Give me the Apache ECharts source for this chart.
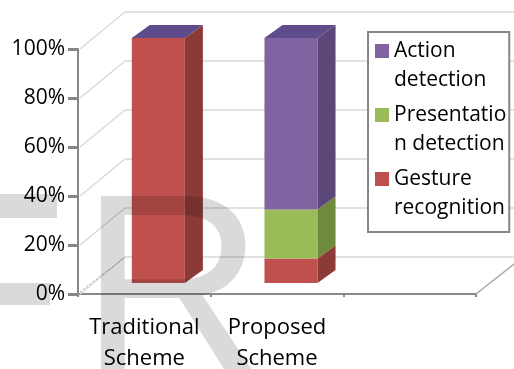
<!DOCTYPE html>
<html>
<head>
<meta charset="utf-8">
<title>Scheme comparison</title>
<script src="https://cdn.jsdelivr.net/npm/echarts@6/dist/echarts.min.js"></script>
<style>html,body{margin:0;padding:0;background:#fff;}</style>
</head>
<body>
<div id="main" style="width:514px;height:369px;"></div>
<script>
    // chart values
    var categories = ['Traditional\nScheme', 'Proposed\nScheme', ''];
    var gestureRecognition = [100, 10];
    var presentationDetection = [0, 20];
    var actionDetection = [0, 70];
    var yTicks = [0, 20, 40, 60, 80, 100];

    var legendLabels = {
        'Action detection': 'Action\ndetection',
        'Presentation detection': 'Presentatio\nn detection',
        'Gesture recognition': 'Gesture\nrecognition'
    };

    // fake 3d offsets
    var DX = 14, DY = -11;      // bar front face vs. front plane
    var SX = 18, SY = -13;      // bar depth
    var BX = 47, BY = -37;      // back wall

    var defs = [
        {name: 'Gesture recognition', values: gestureRecognition, front: '#c0504d', side: '#8b3a38'},
        {name: 'Presentation detection', values: presentationDetection, front: '#9bbb59', side: '#6f8a3d'},
        {name: 'Action detection', values: actionDetection, front: '#8064a2', side: '#5b4778', top: '#5e4c8c'}
    ];

    var mychart = echarts.init(document.getElementById('main'));

    function barRender(def) {
        return function (params, api) {
            var cat = api.value(0);
            var p0 = api.coord([cat, api.value(1)]);
            var p1 = api.coord([cat, api.value(2)]);
            var w = api.size([1, 0])[0] * 0.4;
            var x0 = p0[0] - w / 2 + DX, x1 = x0 + w;
            var yb = p0[1] + DY, yt = p1[1] + DY;
            var kids = [
                {type: 'rect', shape: {x: x0, y: yt, width: w, height: yb - yt}, style: {fill: def.front}},
                {type: 'polygon', shape: {points: [[x1, yb], [x1, yt], [x1 + SX, yt + SY], [x1 + SX, yb + SY]]}, style: {fill: def.side}}
            ];
            if (def.top) {
                kids.push({type: 'polygon', shape: {points: [[x0, yt], [x1, yt], [x1 + SX, yt + SY], [x0 + SX, yt + SY]]}, style: {fill: def.top}});
            }
            return {type: 'group', children: kids};
        };
    }

    function wallRender(params, api) {
        var cs = params.coordSys;
        var v = api.value(1);
        var y = api.coord([0, v])[1];
        var x0 = cs.x, x1 = cs.x + cs.width;
        var kids = [
            {type: 'line', shape: {x1: x0 + 2, y1: y, x2: x0 + BX, y2: y + BY}, style: {stroke: '#d9d9d9', lineWidth: 1.5}},
            {type: 'line', shape: {x1: x0 + BX, y1: y + BY, x2: x1 + BX, y2: y + BY}, style: {stroke: '#d9d9d9', lineWidth: 1.5}}
        ];
        if (v === 0) {
            kids.push({type: 'line', shape: {x1: x1, y1: y, x2: x1 + BX, y2: y + BY}, style: {stroke: '#a6a6a6', lineWidth: 1.5}});
            kids.push({type: 'line', shape: {x1: x0 + 2, y1: y - 2, x2: x0 + BX, y2: y + BY}, style: {stroke: '#a6a6a6', lineWidth: 1, lineDash: [2, 2]}});
        }
        return {type: 'group', children: kids};
    }

    var series = [{
        type: 'custom',
        name: 'walls',
        silent: true,
        z: 1,
        data: yTicks.map(function (v) { return [0, v]; }),
        renderItem: wallRender
    }];

    var base = gestureRecognition.map(function () { return 0; });
    defs.forEach(function (def) {
        var data = def.values.map(function (v, i) {
            var b = base[i];
            base[i] += v;
            return [i, b, b + v];
        });
        series.push({
            type: 'custom',
            name: def.name,
            z: 3,
            itemStyle: {color: def.front},
            data: data,
            renderItem: barRender(def)
        });
    });

    mychart.setOption({
        animation: false,
        textStyle: {fontFamily: 'Open Sans'},
        grid: {left: 78, right: 38, top: 49, bottom: 75, containLabel: false, outerBoundsMode: 'none'},
        legend: {
            data: ['Action detection', 'Presentation detection', 'Gesture recognition'],
            orient: 'vertical',
            left: 368,
            top: 32,
            padding: [4, 3, 9, 7],
            itemGap: 5,
            itemWidth: 14,
            itemHeight: 59,
            // square sits beside the first text line
            icon: 'path://M0,8L14,8L14,22L0,22Z M0,0L0.05,0L0.05,0.05L0,0.05Z M13.95,58.95L14,58.95L14,59L13.95,59Z',
            backgroundColor: '#fff',
            borderColor: '#868686',
            borderWidth: 2,
            formatter: function (name) { return legendLabels[name]; },
            textStyle: {fontSize: 21, lineHeight: 29.5, color: '#000', fontFamily: 'Open Sans'}
        },
        xAxis: {
            type: 'category',
            data: categories,
            axisLine: {lineStyle: {color: '#898989', width: 2}},
            axisTick: {show: true, length: 3, lineStyle: {color: '#898989', width: 2}},
            axisLabel: {interval: 0, fontSize: 22, lineHeight: 31, color: '#000', margin: 18, fontFamily: 'Open Sans'}
        },
        yAxis: {
            type: 'value',
            min: 0,
            max: 100,
            interval: 20,
            axisLine: {show: true, lineStyle: {color: '#868686', width: 2}},
            axisTick: {show: true, length: 10, lineStyle: {color: '#868686', width: 3}},
            axisLabel: {formatter: '{value}%', fontSize: 21, color: '#000', margin: 13, fontFamily: 'Open Sans'},
            splitLine: {show: false}
        },
        graphic: [
            {type: 'text', left: 80, top: 173, z: 100, silent: true,
             style: {text: 'R', fontSize: 255, fontFamily: 'Liberation Sans', fill: 'rgba(0,0,0,0.145)'}},
            {type: 'rect', left: 0, top: 194, z: 100, silent: true, shape: {x: 0, y: 0, width: 57, height: 24}, style: {fill: 'rgba(0,0,0,0.145)'}},
            {type: 'rect', left: 0, top: 283, z: 100, silent: true, shape: {x: 0, y: 0, width: 50, height: 22}, style: {fill: 'rgba(0,0,0,0.145)'}}
        ],
        series: series
    });
</script>
</body>
</html>
